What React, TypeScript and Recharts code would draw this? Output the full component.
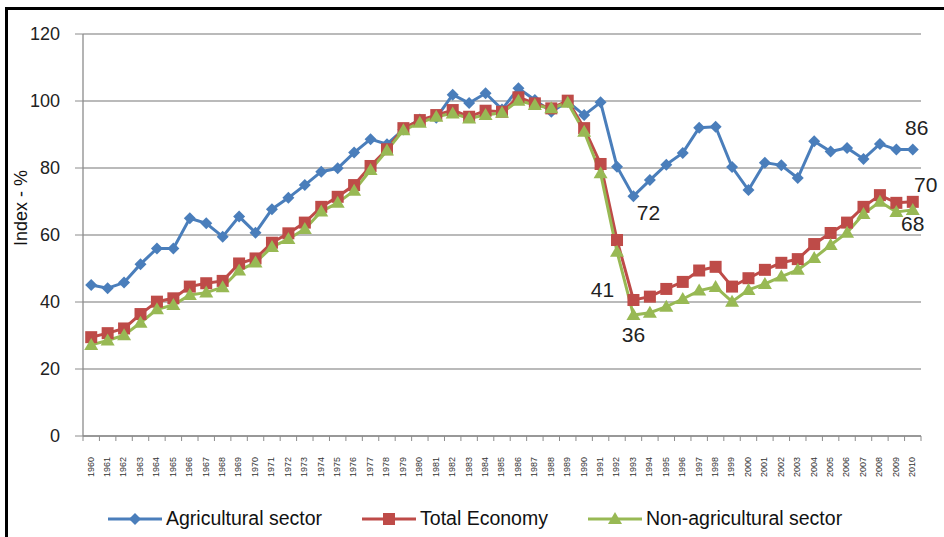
import React from 'react'
import { CartesianGrid, LabelList, Legend, Line, LineChart, XAxis, YAxis } from 'recharts'

const years = [
  '1960', '1961', '1962', '1963', '1964', '1965', '1966', '1967', '1968', '1969',
  '1970', '1971', '1972', '1973', '1974', '1975', '1976', '1977', '1978', '1979',
  '1980', '1981', '1982', '1983', '1984', '1985', '1986', '1987', '1988', '1989',
  '1990', '1991', '1992', '1993', '1994', '1995', '1996', '1997', '1998', '1999',
  '2000', '2001', '2002', '2003', '2004', '2005', '2006', '2007', '2008', '2009', '2010',
]

const agricultural = [
  45.1, 44.1, 45.8, 51.3, 56, 56, 65, 63.5, 59.5, 65.5,
  60.7, 67.7, 71.1, 74.9, 78.9, 79.9, 84.6, 88.6, 87.1, 91.5,
  94.5, 95, 101.9, 99.4, 102.3, 97.5, 103.8, 100.3, 96.8, 99.8,
  95.8, 99.6, 80.4, 71.6, 76.4, 81, 84.5, 92, 92.3, 80.3,
  73.4, 81.6, 80.8, 77, 88, 84.9, 86, 82.7, 87.2, 85.5, 85.5,
]

const totalEconomy = [
  29.5, 30.7, 32.1, 36.4, 40.1, 41.1, 44.6, 45.6, 46.3, 51.5,
  53, 57.7, 60.5, 63.7, 68.4, 71.4, 74.9, 80.6, 85.6, 91.9,
  94.3, 95.8, 97.3, 95.3, 97.1, 96.8, 101.1, 99.3, 97.8, 100.1,
  91.9, 81.2, 58.5, 40.6, 41.6, 43.9, 46, 49.4, 50.5, 44.6,
  47.1, 49.6, 51.7, 52.8, 57.3, 60.6, 63.7, 68.4, 71.9, 69.6, 69.9,
]

const nonAgricultural = [
  27.2, 28.5, 30.1, 33.8, 37.8, 39.1, 42.1, 42.8, 44.4, 49.4,
  51.8, 56.4, 58.8, 61.8, 67, 69.6, 73.2, 79.4, 85.2, 91.3,
  93.5, 95.3, 96.3, 94.8, 95.8, 96.5, 100.1, 98.8, 97.8, 99.5,
  90.8, 78.4, 55, 36.1, 36.8, 38.6, 40.9, 43.4, 44.5, 40.1,
  43.6, 45.4, 47.6, 49.6, 53.1, 57, 60.7, 66.3, 69.9, 66.9, 67.5,
]

const yTicks = [0, 20, 40, 60, 80, 100, 120]

// annotated values shown on the chart
const agriLabels = [{ year: '1993', text: '72' }, { year: '2010', text: '86' }]
const totalLabels = [{ year: '1993', text: '41' }, { year: '2010', text: '70' }]
const nonAgriLabels = [{ year: '1993', text: '36' }, { year: '2010', text: '68' }]

const data = years.map((year, i) => ({
  year,
  agri: agricultural[i],
  total: totalEconomy[i],
  nonAgri: nonAgricultural[i],
}))

const W = 944
const H = 537
const MARGIN = { top: 34, right: 23, left: 0, bottom: 0 }
const Y_AXIS_W = 83
const X_AXIS_H = 101
const BAND = (W - Y_AXIS_W - MARGIN.right) / years.length

const BLUE = '#4a7ebb'
const RED = '#be4b48'
const GREEN = '#98b954'
const FONT = '"Liberation Sans", Arial, sans-serif'

const Diamond = ({ cx, cy, fill }: any) => (
  <polygon points={`${cx},${cy - 6} ${cx + 6},${cy} ${cx},${cy + 6} ${cx - 6},${cy}`} fill={fill} />
)
const Square = ({ cx, cy, fill }: any) => (
  <rect x={cx - 6} y={cy - 6} width={12} height={12} fill={fill} />
)
const Triangle = ({ cx, cy, fill }: any) => (
  <polygon points={`${cx},${cy - 7} ${cx + 7},${cy + 5} ${cx - 7},${cy + 5}`} fill={fill} />
)

const XTick = ({ x, y, payload, index }: any) => (
  <g>
    <line x1={x - BAND / 2} x2={x - BAND / 2} y1={y} y2={y + 5} stroke="#8c8c8c" />
    {index === years.length - 1 && (
      <line x1={x + BAND / 2} x2={x + BAND / 2} y1={y} y2={y + 5} stroke="#8c8c8c" />
    )}
    <text
      x={x}
      y={y + 21}
      transform={`rotate(-90 ${x} ${y + 21})`}
      textAnchor="end"
      dominantBaseline="middle"
      fontSize={9}
      fontFamily={FONT}
      fill="#333"
    >
      {payload.value}
    </text>
  </g>
)

const makeLabel = (labels: { year: string; text: string }[], offsets: Record<string, [number, number]>) =>
  (props: any) => {
    const { x, y, index } = props
    const item = labels.find((l) => l.year === years[index])
    if (!item) return null
    const [dx, dy] = offsets[item.year]
    return (
      <text x={x + dx} y={y + dy} textAnchor="middle" dominantBaseline="middle" fontSize={21} fontFamily={FONT} fill="#222">
        {item.text}
      </text>
    )
  }

const legendItems = [
  { name: 'Agricultural sector', color: BLUE, Marker: Diamond },
  { name: 'Total Economy', color: RED, Marker: Square },
  { name: 'Non-agricultural sector', color: GREEN, Marker: Triangle },
]

const LegendContent = () => (
  <div style={{ display: 'flex', alignItems: 'center', gap: 40, fontFamily: FONT, fontSize: 19.5, color: '#111' }}>
    {legendItems.map(({ name, color, Marker }) => (
      <div key={name} style={{ display: 'flex', alignItems: 'center', gap: 4 }}>
        <svg width={54} height={16}>
          <line x1={0} x2={54} y1={8} y2={8} stroke={color} strokeWidth={3} />
          <Marker cx={27} cy={8} fill={color} />
        </svg>
        <span>{name}</span>
      </div>
    ))}
  </div>
)

const App = () => {
  return (
    <div style={{ position: 'absolute', left: 0, top: 0, width: W, height: H, background: '#fff' }}>
      <LineChart width={W} height={H} data={data} margin={MARGIN}>
        <CartesianGrid horizontal vertical={false} stroke="#a3a3a3" strokeWidth={1.3} />
        <XAxis
          dataKey="year"
          interval={0}
          height={X_AXIS_H}
          padding={{ left: BAND / 2, right: BAND / 2 }}
          tickSize={0}
          tickMargin={0}
          tickLine={false}
          axisLine={{ stroke: '#8c8c8c', strokeWidth: 1.3 }}
          tick={<XTick />}
        />
        <YAxis
          width={Y_AXIS_W}
          domain={[0, 120]}
          ticks={yTicks}
          tickSize={8}
          tickMargin={15}
          tickLine={{ stroke: '#8c8c8c' }}
          axisLine={{ stroke: '#8c8c8c', strokeWidth: 1.3 }}
          tick={{ fill: '#222', fontSize: 18, fontFamily: FONT }}
          label={{
            value: 'Index - %',
            angle: -90,
            position: 'insideLeft',
            dx: 16,
            dy: -27,
            style: { fill: '#111', fontSize: 18, fontFamily: FONT, textAnchor: 'middle' },
          }}
        />
        <Legend
          verticalAlign="middle"
          align="center"
          content={<LegendContent />}
          wrapperStyle={{ top: 507, left: 108, width: 830 }}
        />
        <Line
          dataKey="agri"
          name="Agricultural sector"
          stroke={BLUE}
          strokeWidth={3}
          dot={<Diamond fill={BLUE} />}
          activeDot={false}
          isAnimationActive={false}
        >
          <LabelList dataKey="agri" content={makeLabel(agriLabels, { '1993': [15, 18], '2010': [4, -20] })} />
        </Line>
        <Line
          dataKey="total"
          name="Total Economy"
          stroke={RED}
          strokeWidth={3}
          dot={<Square fill={RED} />}
          activeDot={false}
          isAnimationActive={false}
        >
          <LabelList dataKey="total" content={makeLabel(totalLabels, { '1993': [-31, -9], '2010': [13, -15] })} />
        </Line>
        <Line
          dataKey="nonAgri"
          name="Non-agricultural sector"
          stroke={GREEN}
          strokeWidth={3}
          dot={<Triangle fill={GREEN} />}
          activeDot={false}
          isAnimationActive={false}
        >
          <LabelList dataKey="nonAgri" content={makeLabel(nonAgriLabels, { '1993': [0, 21], '2010': [0, 16] })} />
        </Line>
      </LineChart>
      <div
        style={{
          position: 'absolute',
          left: 5,
          top: 7,
          right: 0,
          bottom: 0,
          borderLeft: '3px solid #000',
          borderTop: '3px solid #000',
          pointerEvents: 'none',
        }}
      />
    </div>
  )
}

export default App
